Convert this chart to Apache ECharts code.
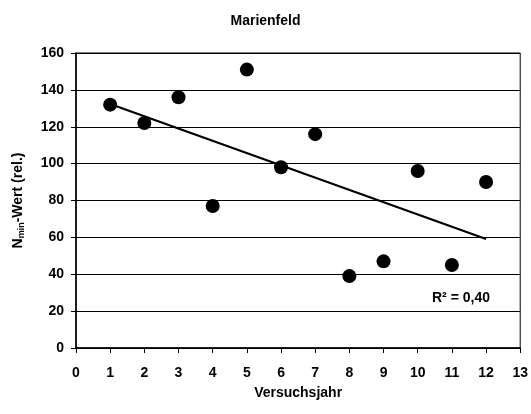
<!DOCTYPE html>
<html>
<head>
<meta charset="utf-8">
<script src="https://cdn.jsdelivr.net/npm/echarts@6/dist/echarts.min.js"></script>
<style>
  html, body { margin: 0; padding: 0; background: #fff; }
  #chart { width: 531px; height: 414px; }
</style>
</head>
<body>
<div id="chart"></div>
<script>
// Versuchsjahr / N_min-Wert (rel.)
var years = [1, 2, 3, 4, 5, 6, 7, 8, 9, 10, 11, 12];
var values = [132, 122, 136, 77, 151, 98, 116, 39, 47, 96, 45, 90];
var r2Text = 'R² = 0,40';

// linear trend through the points
var n = years.length, mx = 0, my = 0;
for (var i = 0; i < n; i++) { mx += years[i]; my += values[i]; }
mx /= n; my /= n;
var sxy = 0, sxx = 0;
for (var i = 0; i < n; i++) {
  sxy += (years[i] - mx) * (values[i] - my);
  sxx += (years[i] - mx) * (years[i] - mx);
}
var slope = sxy / sxx, icpt = my - slope * mx;
var trend = [
  [years[0], icpt + slope * years[0]],
  [years[n - 1], icpt + slope * years[n - 1]]
];

var font = 'Liberation Sans, Arial, sans-serif';
var chart = echarts.init(document.getElementById('chart'));
chart.setOption({
  animation: false,
  backgroundColor: '#fff',
  title: {
    text: 'Marienfeld',
    left: 'center',
    top: 9,
    textStyle: { fontFamily: font, fontWeight: 'bold', fontSize: 14, color: '#000' }
  },
  grid: { left: 76, right: 9, top: 53, bottom: 66, show: true, borderColor: '#000', borderWidth: 1 },
  xAxis: {
    type: 'value', min: 0, max: 13, interval: 1,
    name: 'Versuchsjahr', nameLocation: 'middle', nameGap: 38,
    nameTextStyle: { fontFamily: font, fontWeight: 'bold', fontSize: 14, color: '#000' },
    axisLine: { lineStyle: { color: '#000', width: 1.5 } },
    axisTick: { show: true, length: 5, lineStyle: { color: '#000' } },
    axisLabel: { margin: 18, fontFamily: font, fontWeight: 'bold', fontSize: 14, color: '#000' },
    splitLine: { show: false }
  },
  yAxis: {
    type: 'value', min: 0, max: 160, interval: 20,
    name: '{a|N}{b|min}{a|-Wert (rel.)}', nameLocation: 'middle', nameGap: 50, nameRotate: 90,
    nameTextStyle: {
      rich: {
        a: { fontFamily: font, fontWeight: 'bold', fontSize: 14, color: '#000' },
        b: { fontFamily: font, fontWeight: 'bold', fontSize: 9, color: '#000', padding: [7, 0, 0, 0] }
      }
    },
    axisLine: { show: true, lineStyle: { color: '#000', width: 1.5 } },
    axisTick: { show: true, length: 5, lineStyle: { color: '#000' } },
    axisLabel: { margin: 12, fontFamily: font, fontWeight: 'bold', fontSize: 14, color: '#000' },
    splitLine: { show: true, lineStyle: { color: '#000', width: 1 } }
  },
  series: [
    {
      type: 'line',
      data: trend,
      symbol: 'none',
      lineStyle: { color: '#000', width: 2.2 },
      z: 2
    },
    {
      type: 'scatter',
      data: years.map(function (x, i) { return [x, values[i]]; }),
      symbol: 'circle',
      symbolSize: 14,
      itemStyle: { color: '#000', opacity: 1 },
      z: 3
    }
  ],
  graphic: [{
    type: 'text',
    left: 432,
    top: 291,
    style: { text: r2Text, fontFamily: font, fontWeight: 'bold', fontSize: 14, fill: '#000' }
  }]
});
</script>
</body>
</html>
